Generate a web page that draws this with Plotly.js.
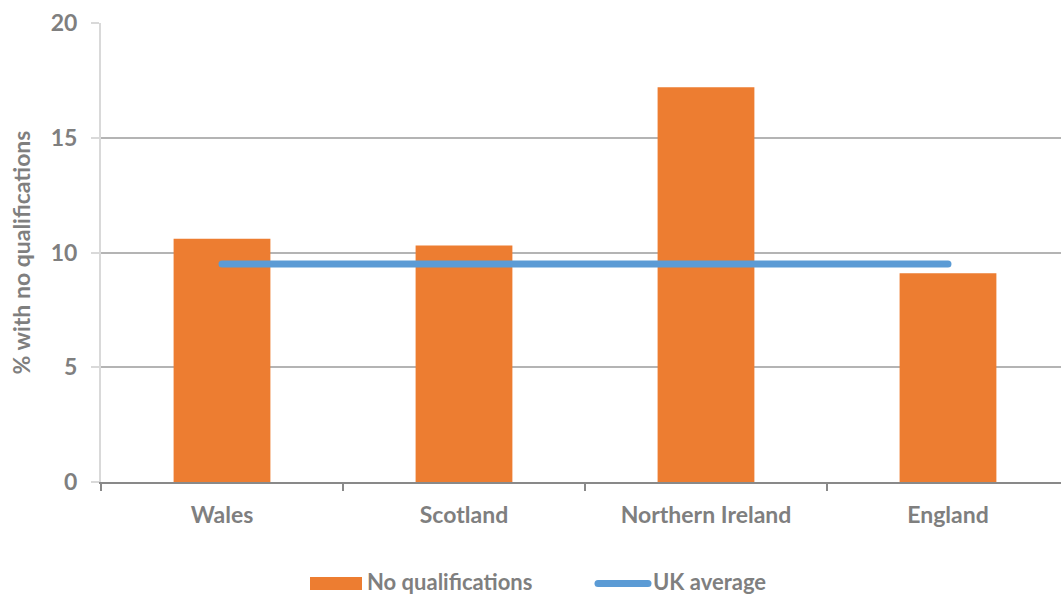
<!DOCTYPE html>
<html>
<head>
<meta charset="utf-8">
<script src="https://cdn.plot.ly/plotly-3.0.1.min.js"></script>
<style>
  html, body { margin: 0; padding: 0; background: #ffffff; }
  #chart { width: 1061px; height: 595px; }
  /* rounded ends on the average line and its legend swatch */
  #chart .scatterlayer .js-line,
  #chart .shapelayer path { stroke-linecap: round; }
</style>
</head>
<body>
<div id="chart"></div>
<script>
// Share of people with no qualifications, by nation, against the UK average
const nations = ["Wales", "Scotland", "Northern Ireland", "England"];
const noQualifications = [10.6, 10.3, 17.2, 9.1];
const ukAverage = [9.5, 9.5, 9.5, 9.5];
const yTicks = [0, 5, 10, 15, 20];

const orange = "#ED7D31";
const blue = "#5B9BD5";
const textGrey = "#7f7f7f";
const fontFamily = "Lato, 'Open Sans', sans-serif";

// Plot area in pixels, used to place the hand-made legend below the axis
const W = 1061, H = 595;
const margin = { l: 101, r: 0, t: 23, b: 113, pad: 0 };
const plotW = W - margin.l - margin.r;
const plotH = H - margin.t - margin.b;
const px = x => (x - margin.l) / plotW;
const py = y => (H - margin.b - y) / plotH;

const traces = [
  {
    type: "bar",
    name: "No qualifications",
    x: nations,
    y: noQualifications,
    width: 0.4,
    marker: { color: orange },
    hoverinfo: "x+y"
  },
  {
    type: "scatter",
    mode: "lines",
    name: "UK average",
    x: nations,
    y: ukAverage,
    line: { color: blue, width: 7 },
    hoverinfo: "x+y"
  }
];

const layout = {
  width: W,
  height: H,
  margin: margin,
  paper_bgcolor: "#ffffff",
  plot_bgcolor: "#ffffff",
  showlegend: false,
  font: { family: fontFamily, color: textGrey },
  xaxis: {
    type: "category",
    range: [-0.5, 3.467],
    showline: true,
    linecolor: "#898989",
    linewidth: 2,
    ticks: "outside",
    tickson: "boundaries",
    ticklen: 7,
    tickwidth: 2,
    tickcolor: "#898989",
    showgrid: false,
    tickfont: { family: fontFamily, size: 23, color: textGrey, weight: "bold" },
    ticklabelstandoff: 11,
    fixedrange: true
  },
  yaxis: {
    range: [0, 20],
    tickvals: yTicks,
    ticktext: yTicks.map(String),
    showline: true,
    linecolor: "#d9d9d9",
    linewidth: 2,
    ticks: "outside",
    ticklen: 8,
    tickwidth: 2,
    tickcolor: "#d9d9d9",
    showgrid: true,
    gridcolor: "#b4b4b4",
    gridwidth: 2,
    zeroline: false,
    tickfont: { family: fontFamily, size: 23, color: textGrey, weight: "bold" },
    ticklabelstandoff: 9,
    title: {
      text: "% with no qualifications",
      font: { family: fontFamily, size: 23, color: textGrey, weight: "bold" },
      standoff: 14
    },
    fixedrange: true
  },
  shapes: [
    {
      type: "rect", xref: "paper", yref: "paper",
      x0: px(310), x1: px(362), y0: py(590), y1: py(577),
      fillcolor: orange, line: { width: 0 }
    },
    {
      type: "line", xref: "paper", yref: "paper",
      x0: px(598), x1: px(648), y0: py(583.5), y1: py(583.5),
      line: { color: blue, width: 7 }
    }
  ],
  annotations: [
    {
      xref: "paper", yref: "paper", x: px(365), y: py(581),
      xanchor: "left", yanchor: "middle", showarrow: false,
      text: "No qualifications",
      font: { family: fontFamily, size: 22, color: textGrey, weight: "bold" }
    },
    {
      xref: "paper", yref: "paper", x: px(651), y: py(581),
      xanchor: "left", yanchor: "middle", showarrow: false,
      text: "UK average",
      font: { family: fontFamily, size: 22, color: textGrey, weight: "bold" }
    }
  ]
};

Plotly.newPlot("chart", traces, layout, { displayModeBar: false, staticPlot: true });
</script>
</body>
</html>
